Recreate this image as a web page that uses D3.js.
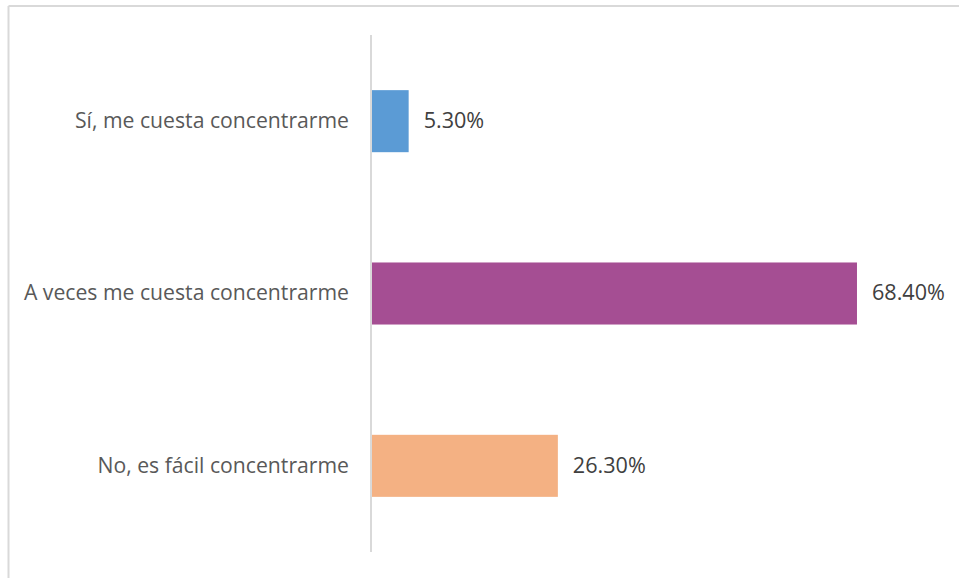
<!DOCTYPE html>
<html><head><meta charset="utf-8">
<script src="https://cdn.jsdelivr.net/npm/d3@7"></script>
<style>html,body{margin:0;padding:0;background:#fff}svg{display:block}</style>
</head><body>
<script>
const categories = ["Sí, me cuesta concentrarme", "A veces me cuesta concentrarme", "No, es fácil concentrarme"];
const values = [5.3, 68.4, 26.3];
const valueLabels = ["5.30%", "68.40%", "26.30%"];
const colors = ["#5B9BD5", "#A54E93", "#F4B183"];

const W = 959, H = 578;
const FONT = "'Open Sans', Lato, sans-serif";
const svg = d3.select("body").append("svg").attr("width", W).attr("height", H);

// chart border (top and left visible)
svg.append("line").attr("x1", 8.5).attr("x2", W).attr("y1", 6).attr("y2", 6).attr("stroke", "#d9d9d9").attr("stroke-width", 2);
svg.append("line").attr("x1", 8.5).attr("x2", 8.5).attr("y1", 6).attr("y2", H).attr("stroke", "#d9d9d9").attr("stroke-width", 2);

const x = d3.scaleLinear().domain([0, 100]).range([371, 371 + 710.5]);
const y = d3.scaleBand().domain(categories).range([35, 552]).paddingInner(0.64).paddingOuter(0.32);

svg.selectAll("rect.bar").data(categories).enter().append("rect")
  .attr("x", x(0)).attr("y", d => y(d))
  .attr("width", (d, i) => x(values[i]) - x(0)).attr("height", y.bandwidth())
  .attr("fill", (d, i) => colors[i]);

const axis = svg.append("g").attr("transform", `translate(${x(0)},0)`)
  .call(d3.axisLeft(y).tickSize(0).tickPadding(22));
axis.select(".domain").attr("stroke", "#d9d9d9").attr("stroke-width", 2).attr("d", `M0,35V552`);
axis.selectAll("text").attr("font-family", FONT).attr("font-size", 21.2).attr("fill", "#595959").attr("dy", "0.32em");

svg.selectAll("text.val").data(categories).enter().append("text")
  .attr("x", (d, i) => x(values[i]) + 15).attr("y", d => y(d) + y.bandwidth() / 2)
  .attr("dy", "0.32em").attr("font-family", FONT).attr("font-size", 21.6)
  .attr("fill", "#404040").text((d, i) => valueLabels[i]);
</script>
</body></html>
